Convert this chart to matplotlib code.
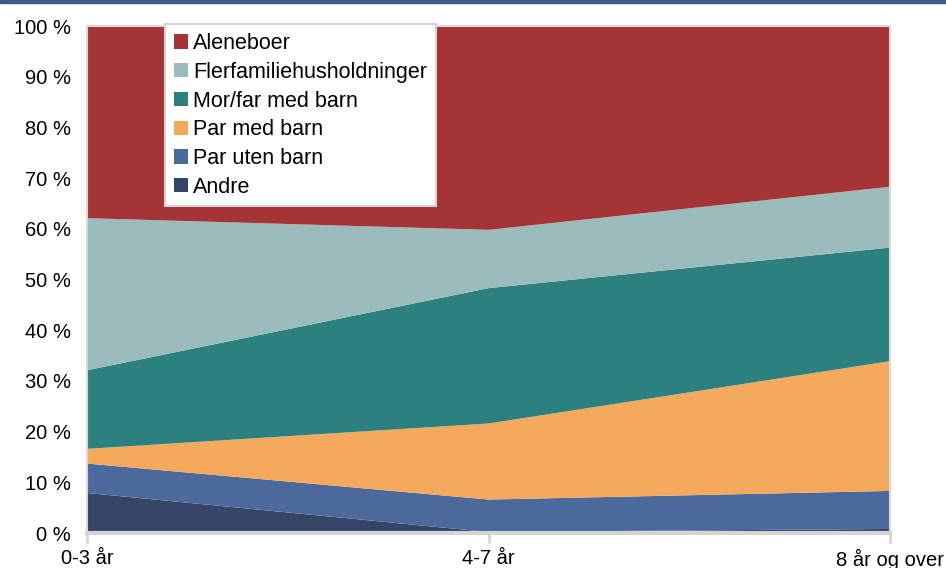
import matplotlib
matplotlib.use('Agg')
import matplotlib.pyplot as plt
from matplotlib.patches import Rectangle

plt.rcParams['font.family'] = ['Liberation Sans', 'DejaVu Sans']

categories = ['0-3 år', '4-7 år', '8 år og over']
andre = [7.9, 0.2, 0.8]
par_uten_barn = [5.8, 6.4, 7.5]
par_med_barn = [2.9, 15.0, 25.6]
mor_far_med_barn = [15.5, 26.7, 22.4]
flerfamilie = [30.0, 11.5, 12.0]
aleneboer = [37.9, 40.2, 31.7]

labels = ['Andre', 'Par uten barn', 'Par med barn', 'Mor/far med barn',
          'Flerfamiliehusholdninger', 'Aleneboer']
colors = ['#344566', '#4b6a9b', '#f5a95c', '#2c807e', '#9abcbd', '#a43435']

fig = plt.figure(figsize=(9.46, 5.68), dpi=100)
fig.patches.append(Rectangle((0, 0.994), 1, 0.006, transform=fig.transFigure,
                             color='#3d5a87', zorder=10))
ax = fig.add_axes([0.092, 0.0616, 0.849, 0.8926])

x = list(range(len(categories)))
polys = ax.stackplot(x, andre, par_uten_barn, par_med_barn, mor_far_med_barn,
                     flerfamilie, aleneboer, labels=labels, colors=colors,
                     linewidth=0)

ax.set_xlim(0, 2)
ax.set_ylim(0, 100)
ax.set_yticks(range(0, 101, 10))
ax.set_yticklabels(['%d %%' % v for v in range(0, 101, 10)])
ax.set_xticks(x)
ax.set_xticklabels(categories)
ax.tick_params(axis='y', length=0, pad=11.5, labelsize=14.5)
ax.tick_params(axis='x', length=7, width=2, color='#d4d4d4', pad=4.5, labelsize=14.5)

for side in ['left', 'right', 'top']:
    ax.spines[side].set_color('#d9d9d9')
    ax.spines[side].set_linewidth(1.5)
ax.spines['bottom'].set_color('#d4d4d4')
ax.spines['bottom'].set_linewidth(3)

handles, lbls = ax.get_legend_handles_labels()
leg = ax.legend(handles[::-1], lbls[::-1], loc='upper left',
                bbox_to_anchor=(0.097, 1.003), fontsize=15.5, frameon=True,
                framealpha=1, fancybox=False, edgecolor='#d4d4d4',
                handlelength=0.65, handleheight=0.65, handletextpad=0.25,
                labelspacing=0.36, borderpad=0.4, borderaxespad=0)
leg.get_frame().set_linewidth(1.5)

fig.savefig('out.png', dpi=100)
